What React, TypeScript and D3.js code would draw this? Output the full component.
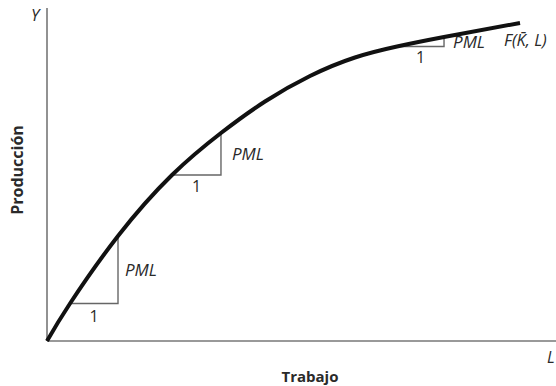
import React from "react";
import * as d3 from "d3";

// Curve points of F(K̄, L): labour (x) and output (y) in arbitrary units
const labour = [0, 0.452, 1.395, 2.456, 3.418, 4.283, 5.167, 6.051, 6.876, 7.8, 9.293];
const output = [0, 1.126, 3.153, 4.985, 6.246, 7.192, 7.958, 8.514, 8.844, 9.129, 9.55];
// Slope triangles: index pairs into the curve points
const triStart = [1, 3, 8];
const triEnd = [2, 4, 9];
const slopeLabel = "PML";
const runLabel = "1";

const W = 556;
const H = 386;

export default function App() {
  const x = d3.scaleLinear().domain([0, 10]).range([47, 556]);
  const y = d3.scaleLinear().domain([0, 10]).range([341, 8]);
  const pts = labour.map((l, i) => [l, output[i]] as [number, number]);
  const line = d3
    .line<[number, number]>()
    .x((d) => x(d[0]))
    .y((d) => y(d[1]))
    .curve(d3.curveNatural);

  const textColor = "#2a2a2a";
  const font = "'Open Sans', 'Noto Sans', sans-serif";

  const labelOffsets = [
    { px: 7, ry: 18 },
    { px: 11, ry: 17 },
    { px: 9, ry: 17 },
  ];

  return (
    <svg
      width={W}
      height={H}
      style={{ position: "absolute", left: 0, top: 0, background: "#fff" }}
      fontFamily={font}
    >
      {/* axes */}
      <line x1={x(0)} x2={x(0)} y1={y(10)} y2={y(0)} stroke="#777" strokeWidth={1.6} />
      <line x1={x(0)} x2={W} y1={y(0)} y2={y(0)} stroke="#777" strokeWidth={1.6} />

      {/* slope triangles */}
      {triStart.map((s, k) => {
        const e = triEnd[k];
        const x0 = x(labour[s]);
        const x1 = x(labour[e]);
        const y0 = y(output[s]);
        const y1 = y(output[e]);
        const off = labelOffsets[k];
        return (
          <g key={k}>
            <polyline
              points={`${x0},${y0} ${x1},${y0} ${x1},${y1}`}
              fill="none"
              stroke="#666"
              strokeWidth={1.4}
            />
            <text
              x={(x0 + x1) / 2}
              y={y0 + off.ry}
              textAnchor="middle"
              fontSize={16}
              fill={textColor}
            >
              {runLabel}
            </text>
            <text
              x={x1 + off.px}
              y={(y0 + y1) / 2 + 6}
              fontSize={17}
              fontStyle="italic"
              fill={textColor}
            >
              {slopeLabel}
            </text>
          </g>
        );
      })}

      {/* production function */}
      <path d={line(pts) ?? ""} fill="none" stroke="#111" strokeWidth={4} strokeLinecap="butt" />

      <text x={504} y={46} fontSize={16.5} fontStyle="italic" fill={textColor}>
        F(K̄, L)
      </text>
      <text x={31} y={21} fontSize={16.5} fontStyle="italic" fill={textColor}>
        Y
      </text>
      <text x={547} y={363} fontSize={16} fontStyle="italic" fill={textColor}>
        L
      </text>
      <text
        transform="translate(23,170) rotate(-90)"
        textAnchor="middle"
        fontSize={16}
        fontWeight="bold"
        fill={textColor}
      >
        Producción
      </text>
      <text x={310} y={382} textAnchor="middle" fontSize={15} fontWeight="bold" fill={textColor}>
        Trabajo
      </text>
    </svg>
  );
}
